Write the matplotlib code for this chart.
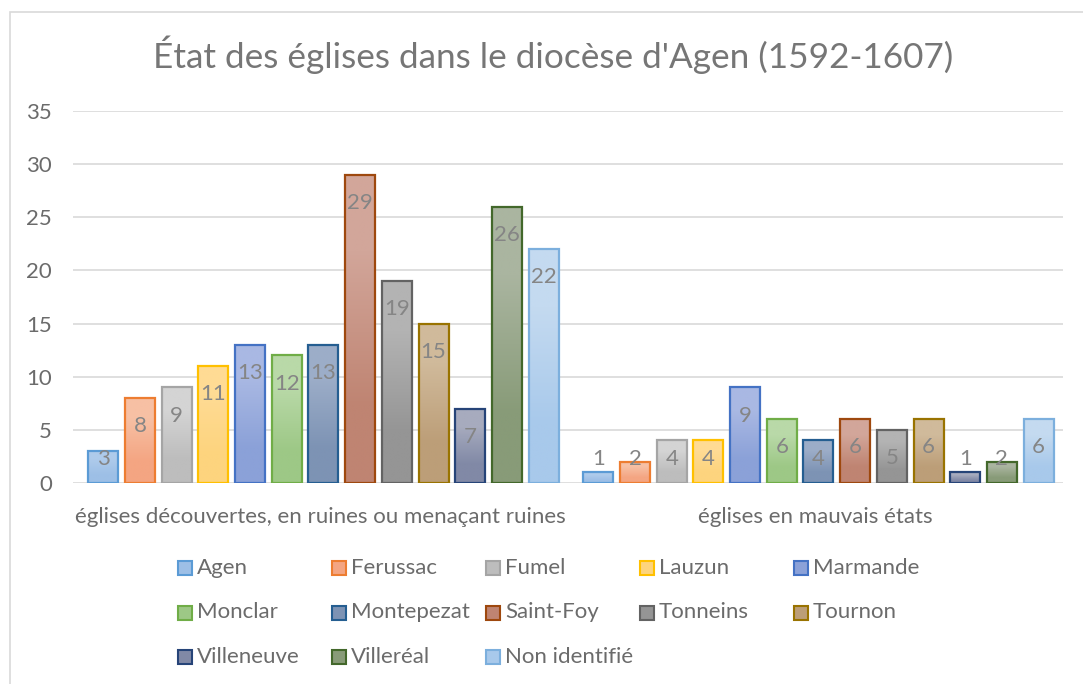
import numpy as np
import matplotlib.pyplot as plt
from matplotlib.patches import Rectangle

plt.rcParams['font.family'] = ['Lato', 'DejaVu Sans']

title = "État des églises dans le diocèse d'Agen (1592-1607)"
categories = ["églises découvertes, en ruines ou menaçant ruines",
              "églises en mauvais états"]
places = ["Agen", "Ferussac", "Fumel", "Lauzun", "Marmande", "Monclar",
          "Montepezat", "Saint-Foy", "Tonneins", "Tournon", "Villeneuve",
          "Villeréal", "Non identifié"]
ruined = [3, 8, 9, 11, 13, 12, 13, 29, 19, 15, 7, 26, 22]
poor = [1, 2, 4, 4, 9, 6, 4, 6, 5, 6, 1, 2, 6]

# outline and gradient (top -> bottom) colours for each place
edge_colors = ["#5B9BD5", "#ED7D31", "#A5A5A5", "#FFC000", "#4472C4", "#70AD47",
               "#255E91", "#9E480E", "#636363", "#997300", "#264478", "#43682B",
               "#7CAFDD"]
fill_top = ["#AECBEB", "#F7C0A4", "#D4D4D4", "#FFDB94", "#A9B8E3", "#B9D9A8",
            "#9CADC8", "#D2A69A", "#B3B3B3", "#D0BA9B", "#A7ABBE", "#AAB5A0",
            "#C4DAF0"]
fill_bottom = ["#9DBFE6", "#F4A582", "#BDBDBD", "#FDD47E", "#8BA1D8", "#9DC886",
               "#7D93B4", "#BF8472", "#959595", "#BC9E78", "#8189A6", "#889B78",
               "#A8C9EB"]

text_gray = "#6B6B6B"

W, H = 1083, 684
fig = plt.figure(figsize=(W / 100, H / 100), dpi=100)

# chart frame
fig.patches.append(Rectangle((10 / W, -0.1), 1.2, (H - 12) / H + 0.1,
                             transform=fig.transFigure, fill=False,
                             edgecolor="#D9D9D9", linewidth=1.2))

ax = fig.add_axes([73 / W, 1 - 483 / H, 990 / W, 372 / H])

step = 0.0741
width = 0.0606
series = np.array([ruined, poor]).T
xc = np.arange(len(categories))

def hex_rgb(c):
    c = c.lstrip("#")
    return [int(c[k:k + 2], 16) / 255 for k in (0, 2, 4)]

for i, name in enumerate(places):
    xs = xc + (i - (len(places) - 1) / 2) * step + 0.006
    bars = ax.bar(xs, series[i], width, facecolor="none",
                  edgecolor=edge_colors[i], linewidth=1.6, label=name, zorder=3)
    grad = np.array([[hex_rgb(fill_top[i])], [hex_rgb(fill_bottom[i])]])
    for b, v in zip(bars, series[i]):
        im = ax.imshow(grad, extent=(b.get_x(), b.get_x() + width, 0, v),
                       aspect="auto", interpolation="bilinear", zorder=2,
                       origin="upper")
        im.set_clip_path(b)
        ax.text(b.get_x() + width / 2, max(v - 2.65, 2.3), str(v),
                ha="center", va="center", fontsize=16, color="#858585",
                zorder=4)

ax.set_xlim(-0.5, 1.5)
ax.set_ylim(0, 35)
ax.set_yticks(range(0, 36, 5))
ax.set_xticks(xc)
ax.set_xticklabels(categories)
ax.tick_params(axis="y", length=0, pad=15, labelsize=16, labelcolor=text_gray)
ax.tick_params(axis="x", length=0, pad=17, labelsize=16, labelcolor=text_gray)
ax.yaxis.grid(True, color="#D9D9D9", linewidth=1.2, zorder=0)
ax.set_axisbelow(True)
for s in ax.spines.values():
    s.set_visible(False)

fig.text(553 / W, 1 - 55 / H, title, ha="center", va="center",
         fontsize=25.3, color="#767676")

# legend laid out in even columns, five per row
for i, name in enumerate(places):
    row, col = divmod(i, 5)
    x0 = 178 + col * 154
    y0 = 568 + row * 44.5
    fig.patches.append(Rectangle((x0 / W, 1 - (y0 + 7) / H), 14 / W, 14 / H,
                                 transform=fig.transFigure,
                                 facecolor=fill_bottom[i],
                                 edgecolor=edge_colors[i], linewidth=1.5))
    fig.text((x0 + 19) / W, 1 - y0 / H, name, ha="left", va="center",
             fontsize=16, color=text_gray)

fig.savefig("out.png", dpi=100, facecolor="white")
